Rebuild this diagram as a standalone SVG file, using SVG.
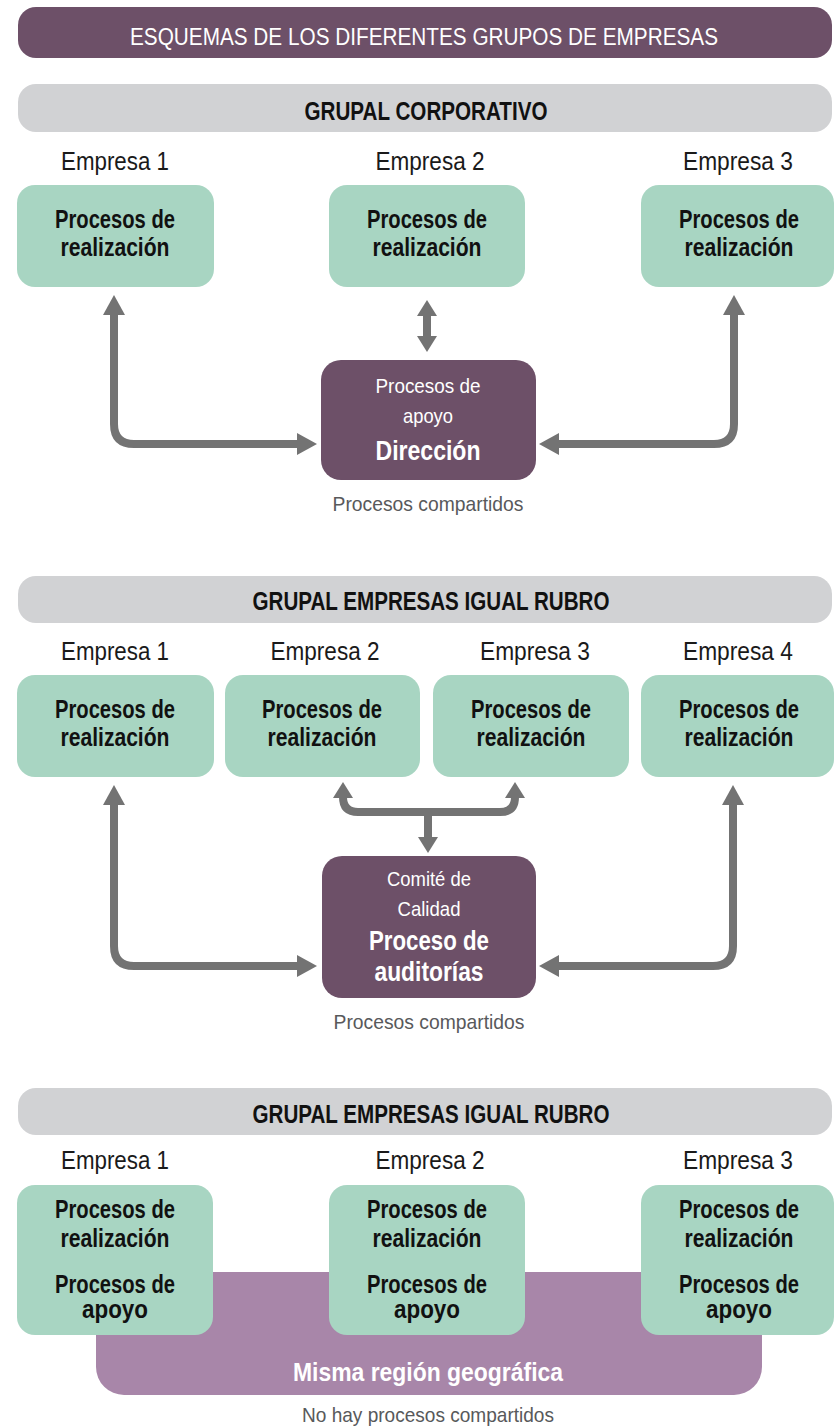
<svg xmlns="http://www.w3.org/2000/svg" width="834" height="1428" viewBox="0 0 834 1428">
<style>
text{font-family:"Liberation Sans",Arial,sans-serif;text-anchor:middle}
.title{fill:#ffffff;font-size:23.5px}
.bar{fill:#d1d2d4}
.head{fill:#111111;font-size:25px;font-weight:bold}
.emp{fill:#1a1a1a;font-size:25px}
.g{fill:#a8d5c2}
.gt{fill:#111111;font-size:25px;font-weight:bold}
.p{fill:#6d5068}
.pt{fill:#ffffff;font-size:21px}
.pb{fill:#ffffff;font-size:27px;font-weight:bold}
.rb{fill:#ffffff;font-size:25px;font-weight:bold}
.note{fill:#58595b;font-size:21px}
.conn path{fill:none;stroke:#737373;stroke-width:8}
</style>
<defs>
<marker id="ah" markerUnits="userSpaceOnUse" markerWidth="20" markerHeight="22" viewBox="0 0 20 22" refX="1" refY="11" orient="auto-start-reverse"><path d="M0,0 L20,11 L0,22 Z" fill="#737373"/></marker>
<marker id="as" markerUnits="userSpaceOnUse" markerWidth="16" markerHeight="20" viewBox="0 0 16 20" refX="1" refY="10" orient="auto-start-reverse"><path d="M0,0 L16,10 L0,20 Z" fill="#737373"/></marker>
</defs>
<rect width="834" height="1428" fill="#ffffff"/>

<g id="title">
<rect x="18" y="7" width="814" height="51" rx="18" fill="#6d5068"/>
<text class="title" x="424" y="45" textLength="588" lengthAdjust="spacingAndGlyphs">ESQUEMAS DE LOS DIFERENTES GRUPOS DE EMPRESAS</text>
</g>

<!-- Section 1 -->
<g id="s1-header">
<rect class="bar" x="18" y="84" width="814" height="48" rx="18"/>
<text class="head" x="426" y="120" textLength="243" lengthAdjust="spacingAndGlyphs">GRUPAL CORPORATIVO</text>
</g>
<g id="s1-e1">
<text class="emp" x="115" y="170" textLength="108" lengthAdjust="spacingAndGlyphs">Empresa 1</text>
<rect class="g" x="17" y="185" width="197" height="102" rx="18"/>
<text class="gt" x="115" y="228" textLength="120" lengthAdjust="spacingAndGlyphs">Procesos de</text>
<text class="gt" x="115" y="256" textLength="109" lengthAdjust="spacingAndGlyphs">realización</text>
</g>
<g id="s1-e2">
<text class="emp" x="430" y="170" textLength="109" lengthAdjust="spacingAndGlyphs">Empresa 2</text>
<rect class="g" x="329" y="185" width="196" height="102" rx="18"/>
<text class="gt" x="427" y="228" textLength="120" lengthAdjust="spacingAndGlyphs">Procesos de</text>
<text class="gt" x="427" y="256" textLength="109" lengthAdjust="spacingAndGlyphs">realización</text>
</g>
<g id="s1-e3">
<text class="emp" x="738" y="170" textLength="110" lengthAdjust="spacingAndGlyphs">Empresa 3</text>
<rect class="g" x="641" y="185" width="193" height="102" rx="18"/>
<text class="gt" x="739" y="228" textLength="120" lengthAdjust="spacingAndGlyphs">Procesos de</text>
<text class="gt" x="739" y="256" textLength="109" lengthAdjust="spacingAndGlyphs">realización</text>
</g>
<g id="s1-dir">
<rect class="p" x="321" y="360" width="215" height="120" rx="20"/>
<text class="pt" x="428" y="393" textLength="105" lengthAdjust="spacingAndGlyphs">Procesos de</text>
<text class="pt" x="428" y="423" textLength="50" lengthAdjust="spacingAndGlyphs">apoyo</text>
<text class="pb" x="428" y="460" textLength="105" lengthAdjust="spacingAndGlyphs">Dirección</text>
</g>
<g id="s1-note">
<text class="note" x="428" y="511" textLength="191" lengthAdjust="spacingAndGlyphs">Procesos compartidos</text>
</g>

<!-- Section 2 -->
<g id="s2-header">
<rect class="bar" x="18" y="576" width="814" height="47" rx="18"/>
<text class="head" x="431" y="610" textLength="357" lengthAdjust="spacingAndGlyphs">GRUPAL EMPRESAS IGUAL RUBRO</text>
</g>
<g id="s2-e1">
<text class="emp" x="115" y="660" textLength="108" lengthAdjust="spacingAndGlyphs">Empresa 1</text>
<rect class="g" x="17" y="675" width="197" height="102" rx="18"/>
<text class="gt" x="115" y="718" textLength="120" lengthAdjust="spacingAndGlyphs">Procesos de</text>
<text class="gt" x="115" y="746" textLength="109" lengthAdjust="spacingAndGlyphs">realización</text>
</g>
<g id="s2-e2">
<text class="emp" x="325" y="660" textLength="109" lengthAdjust="spacingAndGlyphs">Empresa 2</text>
<rect class="g" x="225" y="675" width="195" height="102" rx="18"/>
<text class="gt" x="322" y="718" textLength="120" lengthAdjust="spacingAndGlyphs">Procesos de</text>
<text class="gt" x="322" y="746" textLength="109" lengthAdjust="spacingAndGlyphs">realización</text>
</g>
<g id="s2-e3">
<text class="emp" x="535" y="660" textLength="110" lengthAdjust="spacingAndGlyphs">Empresa 3</text>
<rect class="g" x="433" y="675" width="196" height="102" rx="18"/>
<text class="gt" x="531" y="718" textLength="120" lengthAdjust="spacingAndGlyphs">Procesos de</text>
<text class="gt" x="531" y="746" textLength="109" lengthAdjust="spacingAndGlyphs">realización</text>
</g>
<g id="s2-e4">
<text class="emp" x="738" y="660" textLength="110" lengthAdjust="spacingAndGlyphs">Empresa 4</text>
<rect class="g" x="641" y="675" width="193" height="102" rx="18"/>
<text class="gt" x="739" y="718" textLength="120" lengthAdjust="spacingAndGlyphs">Procesos de</text>
<text class="gt" x="739" y="746" textLength="109" lengthAdjust="spacingAndGlyphs">realización</text>
</g>
<g id="s2-comite">
<rect class="p" x="322" y="856" width="214" height="142" rx="20"/>
<text class="pt" x="429" y="886" textLength="84" lengthAdjust="spacingAndGlyphs">Comité de</text>
<text class="pt" x="429" y="916" textLength="63" lengthAdjust="spacingAndGlyphs">Calidad</text>
<text class="pb" x="429" y="950" textLength="120" lengthAdjust="spacingAndGlyphs">Proceso de</text>
<text class="pb" x="429" y="981" textLength="109" lengthAdjust="spacingAndGlyphs">auditorías</text>
</g>
<g id="s2-note">
<text class="note" x="429" y="1029" textLength="191" lengthAdjust="spacingAndGlyphs">Procesos compartidos</text>
</g>

<!-- Section 3 -->
<g id="s3-header">
<rect class="bar" x="18" y="1088" width="814" height="47" rx="18"/>
<text class="head" x="431" y="1123" textLength="357" lengthAdjust="spacingAndGlyphs">GRUPAL EMPRESAS IGUAL RUBRO</text>
</g>
<g id="s3-region">
<rect x="96" y="1272" width="666" height="123" rx="28" fill="#a886a9"/>
<text class="rb" x="428" y="1381" textLength="270" lengthAdjust="spacingAndGlyphs">Misma región geográfica</text>
</g>
<g id="s3-e1">
<text class="emp" x="115" y="1169" textLength="108" lengthAdjust="spacingAndGlyphs">Empresa 1</text>
<rect class="g" x="17" y="1185" width="196" height="150" rx="18"/>
<text class="gt" x="115" y="1218" textLength="120" lengthAdjust="spacingAndGlyphs">Procesos de</text>
<text class="gt" x="115" y="1247" textLength="109" lengthAdjust="spacingAndGlyphs">realización</text>
<text class="gt" x="115" y="1293" textLength="120" lengthAdjust="spacingAndGlyphs">Procesos de</text>
<text class="gt" x="115" y="1318" textLength="66" lengthAdjust="spacingAndGlyphs">apoyo</text>
</g>
<g id="s3-e2">
<text class="emp" x="430" y="1169" textLength="109" lengthAdjust="spacingAndGlyphs">Empresa 2</text>
<rect class="g" x="329" y="1185" width="196" height="150" rx="18"/>
<text class="gt" x="427" y="1218" textLength="120" lengthAdjust="spacingAndGlyphs">Procesos de</text>
<text class="gt" x="427" y="1247" textLength="109" lengthAdjust="spacingAndGlyphs">realización</text>
<text class="gt" x="427" y="1293" textLength="120" lengthAdjust="spacingAndGlyphs">Procesos de</text>
<text class="gt" x="427" y="1318" textLength="66" lengthAdjust="spacingAndGlyphs">apoyo</text>
</g>
<g id="s3-e3">
<text class="emp" x="738" y="1169" textLength="110" lengthAdjust="spacingAndGlyphs">Empresa 3</text>
<rect class="g" x="641" y="1185" width="193" height="150" rx="18"/>
<text class="gt" x="739" y="1218" textLength="120" lengthAdjust="spacingAndGlyphs">Procesos de</text>
<text class="gt" x="739" y="1247" textLength="109" lengthAdjust="spacingAndGlyphs">realización</text>
<text class="gt" x="739" y="1293" textLength="120" lengthAdjust="spacingAndGlyphs">Procesos de</text>
<text class="gt" x="739" y="1318" textLength="66" lengthAdjust="spacingAndGlyphs">apoyo</text>
</g>
<g id="s3-note">
<text class="note" x="428" y="1422" textLength="252" lengthAdjust="spacingAndGlyphs">No hay procesos compartidos</text>
</g>

<g id="connectors" class="conn">
<path d="M114,314 V424 Q114,444 134,444 H298" marker-start="url(#ah)" marker-end="url(#ah)"/>
<path d="M734,314 V424 Q734,444 714,444 H558" marker-start="url(#ah)" marker-end="url(#ah)"/>
<path d="M427,315 V337" marker-start="url(#as)" marker-end="url(#as)"/>
<path d="M114,804 V946 Q114,966 134,966 H298" marker-start="url(#ah)" marker-end="url(#ah)"/>
<path d="M733,804 V946 Q733,966 713,966 H558" marker-start="url(#ah)" marker-end="url(#ah)"/>
<path d="M343,797 Q343,812 358,812 H500 Q515,812 515,797" marker-start="url(#as)" marker-end="url(#as)"/>
<path d="M428,812 V838" marker-end="url(#as)"/>
</g>
</svg>
